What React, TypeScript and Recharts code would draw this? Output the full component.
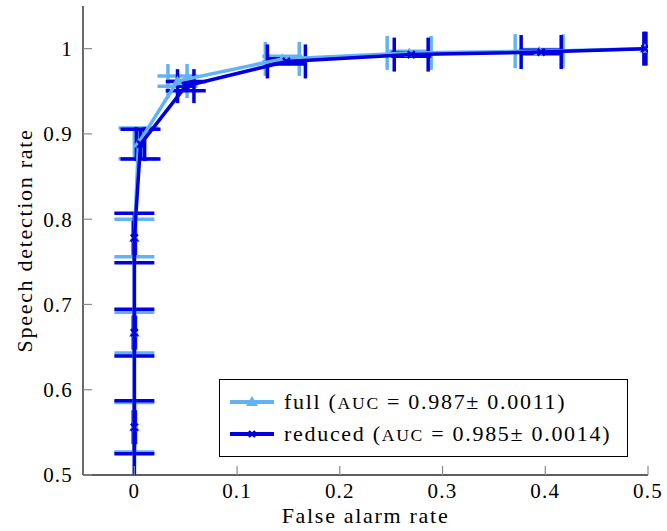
import React from 'react';
import { ScatterChart, Scatter, XAxis, YAxis, ErrorBar, Legend, Label } from 'recharts';

// ---- data ----
const xTicks = [0, 0.1, 0.2, 0.3, 0.4, 0.5];
const yTicks = [0.5, 0.6, 0.7, 0.8, 0.9, 1];
const xTickLabels = ['0', '0.1', '0.2', '0.3', '0.4', '0.5'];
const yTickLabels = ['0.5', '0.6', '0.7', '0.8', '0.9', '1'];

const fullFalseAlarm = [0, 0, 0, 0, 0.004, 0.042, 0.144, 0.2675, 0.394, 0.497];
const fullDetection = [0.444, 0.556, 0.667, 0.778, 0.889, 0.962, 0.988, 0.995, 0.997, 1.0];
const fullFalseAlarmErr = [null, 0.001, 0.001, 0.001, 0.004, 0.0093, 0.0165, 0.0214, 0.0233, 0];
const fullDetectionErr = [null, 0.029, 0.024, 0.022, 0.018, 0.006, 0.003, 0.002, 0.002, 0];

const reducedFalseAlarm = [0, 0, 0, 0, 0.006, 0.05, 0.148, 0.2695, 0.396, 0.497];
const reducedDetection = [0.444, 0.556, 0.667, 0.778, 0.888, 0.956, 0.985, 0.993, 0.996, 1.0];
const reducedFalseAlarmErr = [null, 0.001, 0.001, 0.001, 0.004, 0.008, 0.0185, 0.0165, 0.0195, 0.001];
const reducedDetectionErr = [null, 0.031, 0.0275, 0.029, 0.0175, 0.0055, 0.003, 0.002, 0.002, 0];

const seriesNames = ['full', 'reduced'];
const aucValues = ['0.987', '0.985'];
const aucErrors = ['0.0011', '0.0014'];

const buildRows = (xs: number[], ys: number[], exs: (number | null)[], eys: (number | null)[]) =>
  xs.map((x, i) => ({ x, y: ys[i], ex: exs[i], ey: eys[i] }));

const fullData = buildRows(fullFalseAlarm, fullDetection, fullFalseAlarmErr, fullDetectionErr);
const reducedData = buildRows(reducedFalseAlarm, reducedDetection, reducedFalseAlarmErr, reducedDetectionErr);

// ---- style ----
const LIGHT = '#62b3f6';
const DARK = '#0000e0';
const FONT = '"Liberation Serif", "Times New Roman", serif';
const FONT_SIZE = 22;
const LETTER = 1.7;
const TICK_FONT = 21;
const TICK_LETTER = 1.2;
const TICK_LEN = 9;
const TICK_COLOR = '#8a8a8a';
const FRAME = '#2a2a2a';

const LeftTick = (props: any) => {
  const { x, y, payload } = props;
  const idx = yTicks.indexOf(payload.value);
  const label = idx >= 0 ? yTickLabels[idx] : String(payload.value);
  return (
    <g>
      <line x1={x + 10} x2={x + 10 + TICK_LEN} y1={y} y2={y} stroke={TICK_COLOR} strokeWidth={1.2} />
      <text x={x} y={y} dy="0.35em" textAnchor="end" fontFamily={FONT} fontSize={TICK_FONT} letterSpacing={TICK_LETTER} fill="#000">
        {label}
      </text>
    </g>
  );
};

const RightTick = (props: any) => {
  const { x, y } = props;
  return <line x1={x} x2={x - TICK_LEN} y1={y} y2={y} stroke={TICK_COLOR} strokeWidth={1.2} />;
};

const BottomTick = (props: any) => {
  const { x, y, payload } = props;
  const idx = xTicks.indexOf(payload.value);
  const label = idx >= 0 ? xTickLabels[idx] : String(payload.value);
  return (
    <g>
      <line x1={x} x2={x} y1={y - 6} y2={y - 6 - TICK_LEN} stroke={TICK_COLOR} strokeWidth={1.2} />
      <text x={x} y={y} dy="0.8em" textAnchor="middle" fontFamily={FONT} fontSize={TICK_FONT} letterSpacing={TICK_LETTER} fill="#000">
        {label}
      </text>
    </g>
  );
};

const TopTick = (props: any) => {
  const { x, y } = props;
  return <line x1={x} x2={x} y1={y} y2={y + TICK_LEN} stroke={TICK_COLOR} strokeWidth={1.2} />;
};

const Triangle = (props: any) => {
  const { cx, cy } = props;
  if (cx == null || cy == null) return null;
  const s = 5.5;
  return <path d={`M${cx},${cy - s} L${cx + s},${cy + s * 0.75} L${cx - s},${cy + s * 0.75} Z`} fill={LIGHT} />;
};

const Cross = (props: any) => {
  const { cx, cy } = props;
  if (cx == null || cy == null) return null;
  const s = 3.5;
  return (
    <g stroke={DARK} strokeWidth={2.4}>
      <line x1={cx - s} y1={cy - s} x2={cx + s} y2={cy + s} />
      <line x1={cx - s} y1={cy + s} x2={cx + s} y2={cy - s} />
    </g>
  );
};

const LegendBox = () => (
  <div
    style={{
      border: '1px solid #000',
      background: '#fff',
      padding: '6px 16px 6px 10px',
      fontFamily: FONT,
      fontSize: FONT_SIZE,
      letterSpacing: LETTER,
      color: '#000',
      whiteSpace: 'nowrap',
    }}
  >
    {seriesNames.map((name, i) => (
      <div key={name} style={{ display: 'flex', alignItems: 'center', height: 32 }}>
        <svg width={44} height={20} style={{ flex: 'none' }}>
          <line x1={0} x2={44} y1={10} y2={10} stroke={i === 0 ? LIGHT : DARK} strokeWidth={4} />
          {i === 0 ? (
            <path d="M22,4 L28,14 L16,14 Z" fill={LIGHT} />
          ) : (
            <g stroke={DARK} strokeWidth={2.4}>
              <line x1={19} y1={7} x2={25} y2={13} />
              <line x1={19} y1={13} x2={25} y2={7} />
            </g>
          )}
        </svg>
        <span style={{ marginLeft: 10 }}>
          {name} (<span style={{ fontSize: '0.8em' }}>AUC</span> = {aucValues[i]}± {aucErrors[i]})
        </span>
      </div>
    ))}
  </div>
);

export default function App() {
  return (
    <div style={{ position: 'absolute', left: 0, top: 0, width: 667, height: 531, background: '#fff' }}>
      <ScatterChart width={667} height={531} margin={{ top: 6, right: 19, left: 0, bottom: 0 }}>
        <XAxis
          type="number"
          dataKey="x"
          domain={[-0.05, 0.5]}
          ticks={xTicks}
          allowDataOverflow
          height={56}
          tickSize={0}
          tickMargin={6}
          tick={<BottomTick />}
          axisLine={{ stroke: FRAME, strokeWidth: 1.4 }}
          tickLine={false}
        >
          <Label
            content={(p: any) => {
              const vb = p.viewBox || {};
              const cx = vb.x + vb.width / 2;
              return (
                <text x={cx} y={523} textAnchor="middle" fontFamily={FONT} fontSize={FONT_SIZE} letterSpacing={LETTER} fill="#000">
                  False alarm rate
                </text>
              );
            }}
          />
        </XAxis>
        <XAxis
          xAxisId="top"
          orientation="top"
          type="number"
          domain={[-0.05, 0.5]}
          ticks={xTicks}
          allowDataOverflow
          height={0}
          tickSize={0}
          tickMargin={0}
          tick={<TopTick />}
          axisLine={{ stroke: FRAME, strokeWidth: 1.4 }}
          tickLine={false}
        />
        <YAxis
          type="number"
          dataKey="y"
          domain={[0.5, 1.05]}
          ticks={yTicks}
          allowDataOverflow
          width={83}
          tickSize={0}
          tickMargin={10}
          tick={<LeftTick />}
          axisLine={{ stroke: FRAME, strokeWidth: 1.4 }}
          tickLine={false}
        >
          <Label
            content={(p: any) => {
              const vb = p.viewBox || {};
              const cy = vb.y + vb.height / 2;
              const cx = 24;
              return (
                <text
                  x={cx}
                  y={cy}
                  transform={`rotate(-90 ${cx} ${cy})`}
                  textAnchor="middle"
                  dominantBaseline="central"
                  fontFamily={FONT}
                  fontSize={FONT_SIZE}
                  letterSpacing={LETTER}
                  fill="#000"
                >
                  Speech detection rate
                </text>
              );
            }}
          />
        </YAxis>
        <YAxis
          yAxisId="right"
          orientation="right"
          type="number"
          domain={[0.5, 1.05]}
          ticks={yTicks}
          allowDataOverflow
          width={0}
          tickSize={0}
          tickMargin={0}
          tick={<RightTick />}
          axisLine={{ stroke: FRAME, strokeWidth: 1.4 }}
          tickLine={false}
        />
        <Scatter
          name="full"
          data={fullData}
          line={{ stroke: LIGHT, strokeWidth: 3.5 }}
          lineJointType="linear"
          shape={<Triangle />}
          fill={LIGHT}
          isAnimationActive={false}
        >
          <ErrorBar dataKey="ey" direction="y" width={20} stroke={LIGHT} strokeWidth={3.5} isAnimationActive={false} />
          <ErrorBar dataKey="ex" direction="x" width={17} stroke={LIGHT} strokeWidth={3.5} isAnimationActive={false} />
        </Scatter>
        <Scatter
          name="reduced"
          data={reducedData}
          line={{ stroke: DARK, strokeWidth: 3.5 }}
          lineJointType="linear"
          shape={<Cross />}
          fill={DARK}
          isAnimationActive={false}
        >
          <ErrorBar dataKey="ey" direction="y" width={20} stroke={DARK} strokeWidth={3.5} isAnimationActive={false} />
          <ErrorBar dataKey="ex" direction="x" width={17} stroke={DARK} strokeWidth={3.5} isAnimationActive={false} />
        </Scatter>
        <Legend
          layout="horizontal"
          verticalAlign="middle"
          align="center"
          wrapperStyle={{ left: 219, top: 379, width: 'auto', height: 'auto' }}
          content={<LegendBox />}
        />
      </ScatterChart>
    </div>
  );
}
